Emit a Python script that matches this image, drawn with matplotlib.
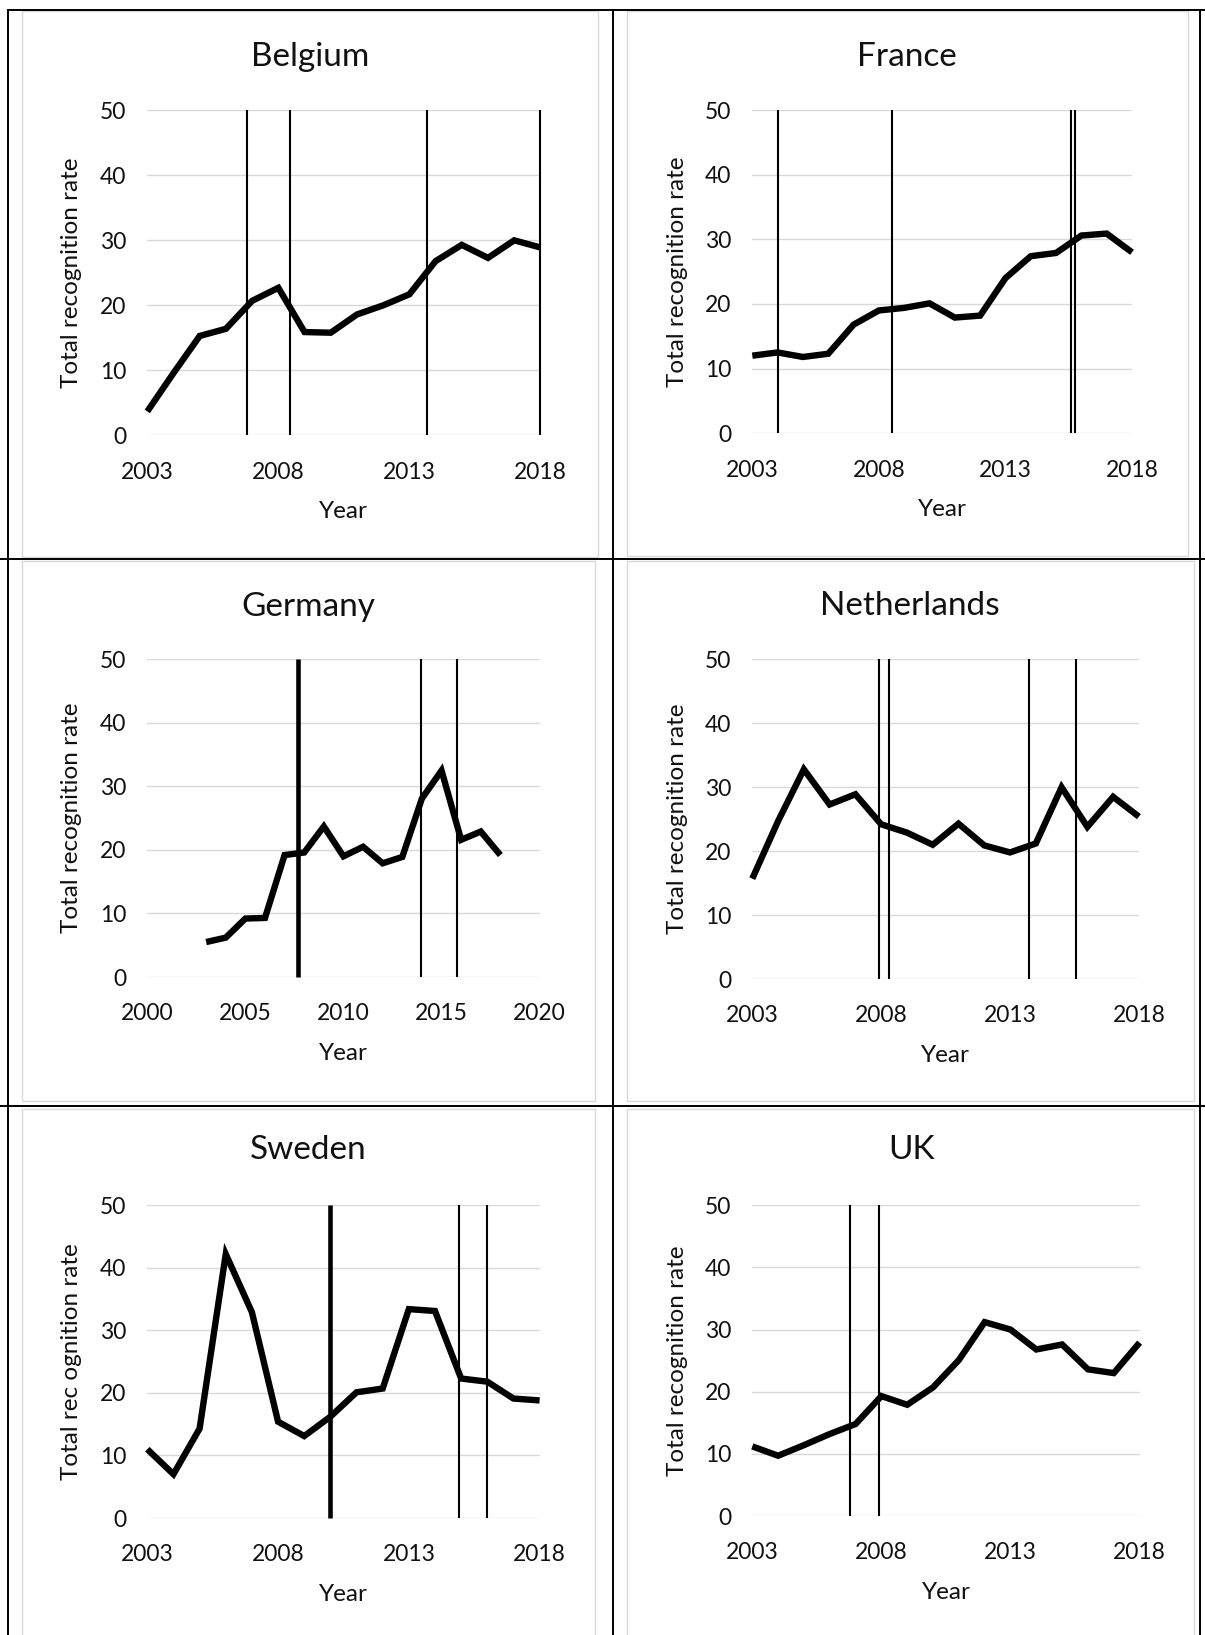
import matplotlib
matplotlib.use("Agg")
import matplotlib.pyplot as plt
from matplotlib.lines import Line2D
from matplotlib.patches import Rectangle

plt.rcParams["font.family"] = ["Lato", "DejaVu Sans"]

W, H = 1205, 1635

# %% Data
years = list(range(2003, 2019))

belgium     = [3.7, 9.6, 15.3, 16.4, 20.7, 22.7, 15.9, 15.8, 18.6, 20.0, 21.7, 26.8, 29.3, 27.3, 30.0, 28.9]
france      = [12.0, 12.5, 11.8, 12.3, 16.8, 19.0, 19.4, 20.1, 17.9, 18.2, 24.0, 27.4, 27.9, 30.6, 30.9, 28.0]
germany     = [5.5, 6.2, 9.2, 9.3, 19.2, 19.6, 23.7, 19.0, 20.5, 17.9, 18.9, 28.1, 32.5, 21.6, 22.9, 19.2]
netherlands = [15.7, 24.7, 32.8, 27.3, 28.9, 24.2, 22.9, 21.0, 24.3, 20.9, 19.8, 21.2, 30.0, 23.8, 28.5, 25.4]
sweden      = [11.0, 7.0, 14.3, 42.2, 32.9, 15.4, 13.1, 16.2, 20.1, 20.7, 33.4, 33.1, 22.3, 21.8, 19.1, 18.8]
uk          = [11.2, 9.7, 11.4, 13.2, 14.8, 19.3, 17.9, 20.7, 25.1, 31.2, 30.0, 26.8, 27.6, 23.6, 23.0, 27.9]

# vertical event markers: (year position, is_thick)
belgium_events     = [(2006.8, False), (2008.43, False), (2013.68, False), (2017.97, False)]
france_events      = [(2004.0, False), (2008.52, False), (2015.58, False), (2015.73, False)]
germany_events     = [(2007.69, True), (2013.93, False), (2015.8, False)]
netherlands_events = [(2007.93, False), (2008.3, False), (2013.75, False), (2015.55, False)]
sweden_events      = [(2010.0, True), (2014.9, False), (2016.0, False)]
uk_events          = [(2006.78, False), (2007.91, False)]

yticks = [0, 10, 20, 30, 40, 50]
xticks_std = [2003, 2008, 2013, 2018]
xticks_de  = [2000, 2005, 2010, 2015, 2020]

# %% Layout in pixels (plot box x0, y0, x1, y1 / title centre / chart-area box)
panels = [
    dict(title="Belgium", y=belgium, ev=belgium_events, xlim=(2003, 2018), xt=xticks_std,
         box=(147.3, 110.2, 540.4, 435.5), tpos=(310, 57), area=(22, 11.5, 598, 557),
         ylab="Total recognition rate"),
    dict(title="France", y=france, ev=france_events, xlim=(2003, 2018), xt=xticks_std,
         box=(752.3, 110.2, 1132.0, 433.2), tpos=(907, 57), area=(627, 11.5, 1187.5, 555.7),
         ylab="Total recognition rate"),
    dict(title="Germany", y=germany, ev=germany_events, xlim=(2000, 2020), xt=xticks_de,
         box=(147.3, 659.4, 539.6, 977.0), tpos=(308.5, 607), area=(22, 561, 595, 1100.6),
         ylab="Total recognition rate"),
    dict(title="Netherlands", y=netherlands, ev=netherlands_events, xlim=(2003, 2018), xt=xticks_std,
         box=(752.3, 659.4, 1138.9, 979.0), tpos=(910, 606), area=(627, 561, 1194, 1100.6),
         ylab="Total recognition rate"),
    dict(title="Sweden", y=sweden, ev=sweden_events, xlim=(2003, 2018), xt=xticks_std,
         box=(147.3, 1205.3, 539.6, 1518.0), tpos=(308, 1150), area=(22, 1108.5, 595, 1650),
         ylab="Total rec ognition rate"),
    dict(title="UK", y=uk, ev=uk_events, xlim=(2003, 2018), xt=xticks_std,
         box=(752.3, 1205.3, 1139.6, 1516.0), tpos=(912, 1150), area=(627, 1108.5, 1194, 1650),
         ylab="Total recognition rate"),
]

TICK_FS = 16.5
LABEL_FS = 17.5
TITLE_FS = 24
TXT = "#111111"

fig = plt.figure(figsize=(W / 100, H / 100), dpi=100)
fig.patch.set_facecolor("white")


def fx(x):
    return x / W


def fy(y):
    return 1 - y / H


# chart-area frames (light grey, Excel style)
for p in panels:
    x0, y0, x1, y1 = p["area"]
    fig.add_artist(Rectangle((fx(x0), fy(y1)), fx(x1) - fx(x0), fy(y0) - fy(y1),
                             transform=fig.transFigure, fill=False,
                             edgecolor="#d9d9d9", lw=1.0))

# table borders
table_lines = [
    ((8.4, 10), (1205, 10)),
    ((8.4, 10), (8.4, 1635)),
    ((613.4, 10), (613.4, 1635)),
    ((1200, 10), (1200, 1635)),
    ((0, 559.5), (1205, 559.5)),
    ((0, 1105.7), (1205, 1105.7)),
]
for (xa, ya), (xb, yb) in table_lines:
    fig.add_artist(Line2D([fx(xa), fx(xb)], [fy(ya), fy(yb)], transform=fig.transFigure,
                          color="black", lw=1.4))

for p in panels:
    x0, y0, x1, y1 = p["box"]
    ax = fig.add_axes([fx(x0), fy(y1), fx(x1) - fx(x0), fy(y0) - fy(y1)])
    ax.set_facecolor("none")
    ax.set_xlim(*p["xlim"])
    ax.set_ylim(0, 50)
    ax.set_yticks(yticks)
    ax.set_xticks(p["xt"])
    for s in ax.spines.values():
        s.set_visible(False)
    ax.yaxis.grid(True, color="#d9d9d9", lw=1.0)
    ax.set_axisbelow(True)
    ax.tick_params(length=0, labelsize=TICK_FS, colors=TXT)
    ax.tick_params(axis="x", pad=19)
    ax.tick_params(axis="y", pad=15)

    for xv, thick in p["ev"]:
        ax.vlines(xv, 0, 50, color="black", lw=3.3 if thick else 1.5, clip_on=False, zorder=3)

    ax.plot(years, p["y"], color="black", lw=4.6, solid_joinstyle="miter",
            solid_capstyle="butt", clip_on=False, zorder=4)

    # y label sits 50 px right of the chart-area edge
    ylab_x = p["area"][0] + 50
    fig.text(fx(ylab_x), fy((y0 + y1) / 2), p["ylab"], rotation=90,
             ha="center", va="center", fontsize=LABEL_FS, color=TXT)
    fig.text(fx((x0 + x1) / 2), fy(y1 + 76), "Year", ha="center", va="center",
             fontsize=LABEL_FS, color=TXT)

    fig.text(fx(p["tpos"][0]), fy(p["tpos"][1]), p["title"], ha="center", va="center",
             fontsize=TITLE_FS, color=TXT)

fig.savefig("out.png", dpi=100)
